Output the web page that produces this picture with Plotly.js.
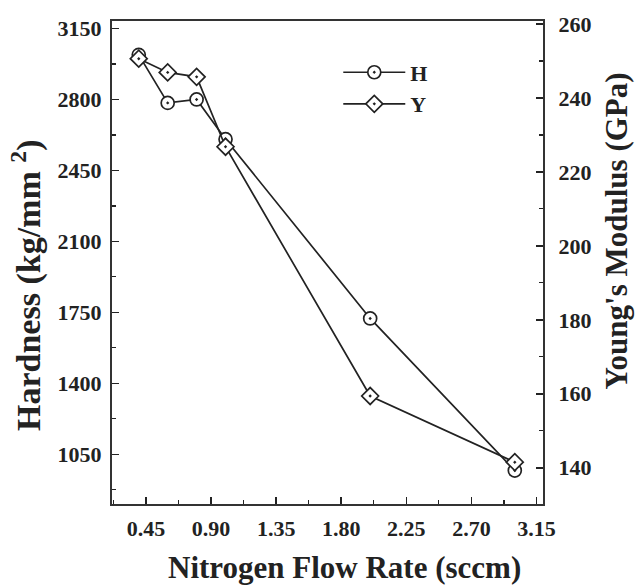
<!DOCTYPE html>
<html>
<head>
<meta charset="utf-8">
<script src="https://cdn.plot.ly/plotly-3.0.1.min.js"></script>
<style>
  html, body { margin: 0; padding: 0; background: #fff; }
  #chart { width: 635px; height: 587px; }
</style>
</head>
<body>
<div id="chart"></div>
<script>
// Nitrogen flow rate (sccm)
const flowRate = [0.4, 0.6, 0.8, 1.0, 2.0, 3.0];
// Hardness (kg/mm^2), left axis
const hardness = [3020, 2783, 2800, 2604, 1720, 970];
// Young's modulus (GPa), right axis
const youngsModulus = [250.6, 246.9, 245.7, 226.8, 159.4, 141.5];

const seriesNames = ['H', 'Y'];
const xTickLabels = ['0.45', '0.90', '1.35', '1.80', '2.25', '2.70', '3.15'];
const xTickValues = xTickLabels.map(Number);

const xTitle = 'Nitrogen Flow Rate (sccm)';
const yTitle = 'Hardness (kg/mm <sup>2</sup>)';
const y2Title = "Young's Modulus (GPa)";

const serif = 'Liberation Serif, Times New Roman, serif';
const ink = '#222';

const tickFont = { family: serif, size: 22, color: ink, weight: 'bold' };
const titleFont = (size) => ({ family: serif, size: size, color: ink, weight: 'bold' });

const traces = [
  {
    x: flowRate, y: hardness, name: seriesNames[0],
    type: 'scatter', mode: 'lines+markers', yaxis: 'y',
    line: { color: ink, width: 1.7 },
    marker: { symbol: 'circle-dot', size: 13, color: '#fff', line: { color: ink, width: 1.7 } }
  },
  {
    x: flowRate, y: youngsModulus, name: seriesNames[1],
    type: 'scatter', mode: 'lines+markers', yaxis: 'y2',
    line: { color: ink, width: 1.7 },
    marker: { symbol: 'diamond-dot', size: 13, color: '#fff', line: { color: ink, width: 1.7 } }
  }
];

const layout = {
  width: 635, height: 587,
  margin: { l: 112, r: 92, t: 21, b: 83 },
  paper_bgcolor: '#fff', plot_bgcolor: '#fff',
  showlegend: true,
  legend: {
    x: 0.525, y: 0.937, xanchor: 'left', yanchor: 'top',
    font: { family: serif, size: 22, color: ink, weight: 'bold' },
    bgcolor: 'rgba(0,0,0,0)', tracegroupgap: 0, itemwidth: 62
  },
  xaxis: {
    range: [0.215, 3.195],
    tickmode: 'array', tickvals: xTickValues, ticktext: xTickLabels,
    ticks: 'inside', ticklen: 7, tickwidth: 1.5, tickcolor: ink,
    minor: { dtick: 0.225, tick0: 0, ticks: 'inside', ticklen: 4, tickcolor: ink, tickwidth: 1.2 },
    showline: true, linecolor: '#333', linewidth: 2, mirror: true,
    showgrid: false, zeroline: false,
    tickfont: tickFont, ticklabelstandoff: 4
  },
  yaxis: {
    range: [805, 3187],
    tick0: 1050, dtick: 350,
    ticks: 'inside', ticklen: 7, tickwidth: 1.5, tickcolor: ink,
    minor: { dtick: 175, tick0: 1050, ticks: 'inside', ticklen: 4, tickcolor: ink, tickwidth: 1.2 },
    showline: true, linecolor: '#333', linewidth: 2,
    showgrid: false, zeroline: false,
    tickfont: tickFont, ticklabelstandoff: 4
  },
  yaxis2: {
    overlaying: 'y', side: 'right',
    range: [130.2, 260.8],
    tick0: 140, dtick: 20,
    ticks: 'inside', ticklen: 7, tickwidth: 1.5, tickcolor: ink,
    minor: { dtick: 10, tick0: 140, ticks: 'inside', ticklen: 4, tickcolor: ink, tickwidth: 1.2 },
    showline: true, linecolor: '#333', linewidth: 2,
    showgrid: false, zeroline: false,
    tickfont: tickFont, ticklabelstandoff: 9
  },
  // axis titles placed as paper-anchored labels
  annotations: [
    { text: xTitle, xref: 'paper', yref: 'paper', x: 0.5406, y: -0.131,
      xanchor: 'center', yanchor: 'middle', showarrow: false, font: titleFont(31) },
    { text: yTitle, xref: 'paper', yref: 'paper', x: -0.2, y: 0.453, textangle: -90,
      xanchor: 'center', yanchor: 'middle', showarrow: false, font: titleFont(34) },
    { text: y2Title, xref: 'paper', yref: 'paper', x: 1.17, y: 0.565, textangle: -90,
      xanchor: 'center', yanchor: 'middle', showarrow: false, font: titleFont(31) }
  ]
};

Plotly.newPlot('chart', traces, layout, { displayModeBar: false, staticPlot: true });
</script>
</body>
</html>
